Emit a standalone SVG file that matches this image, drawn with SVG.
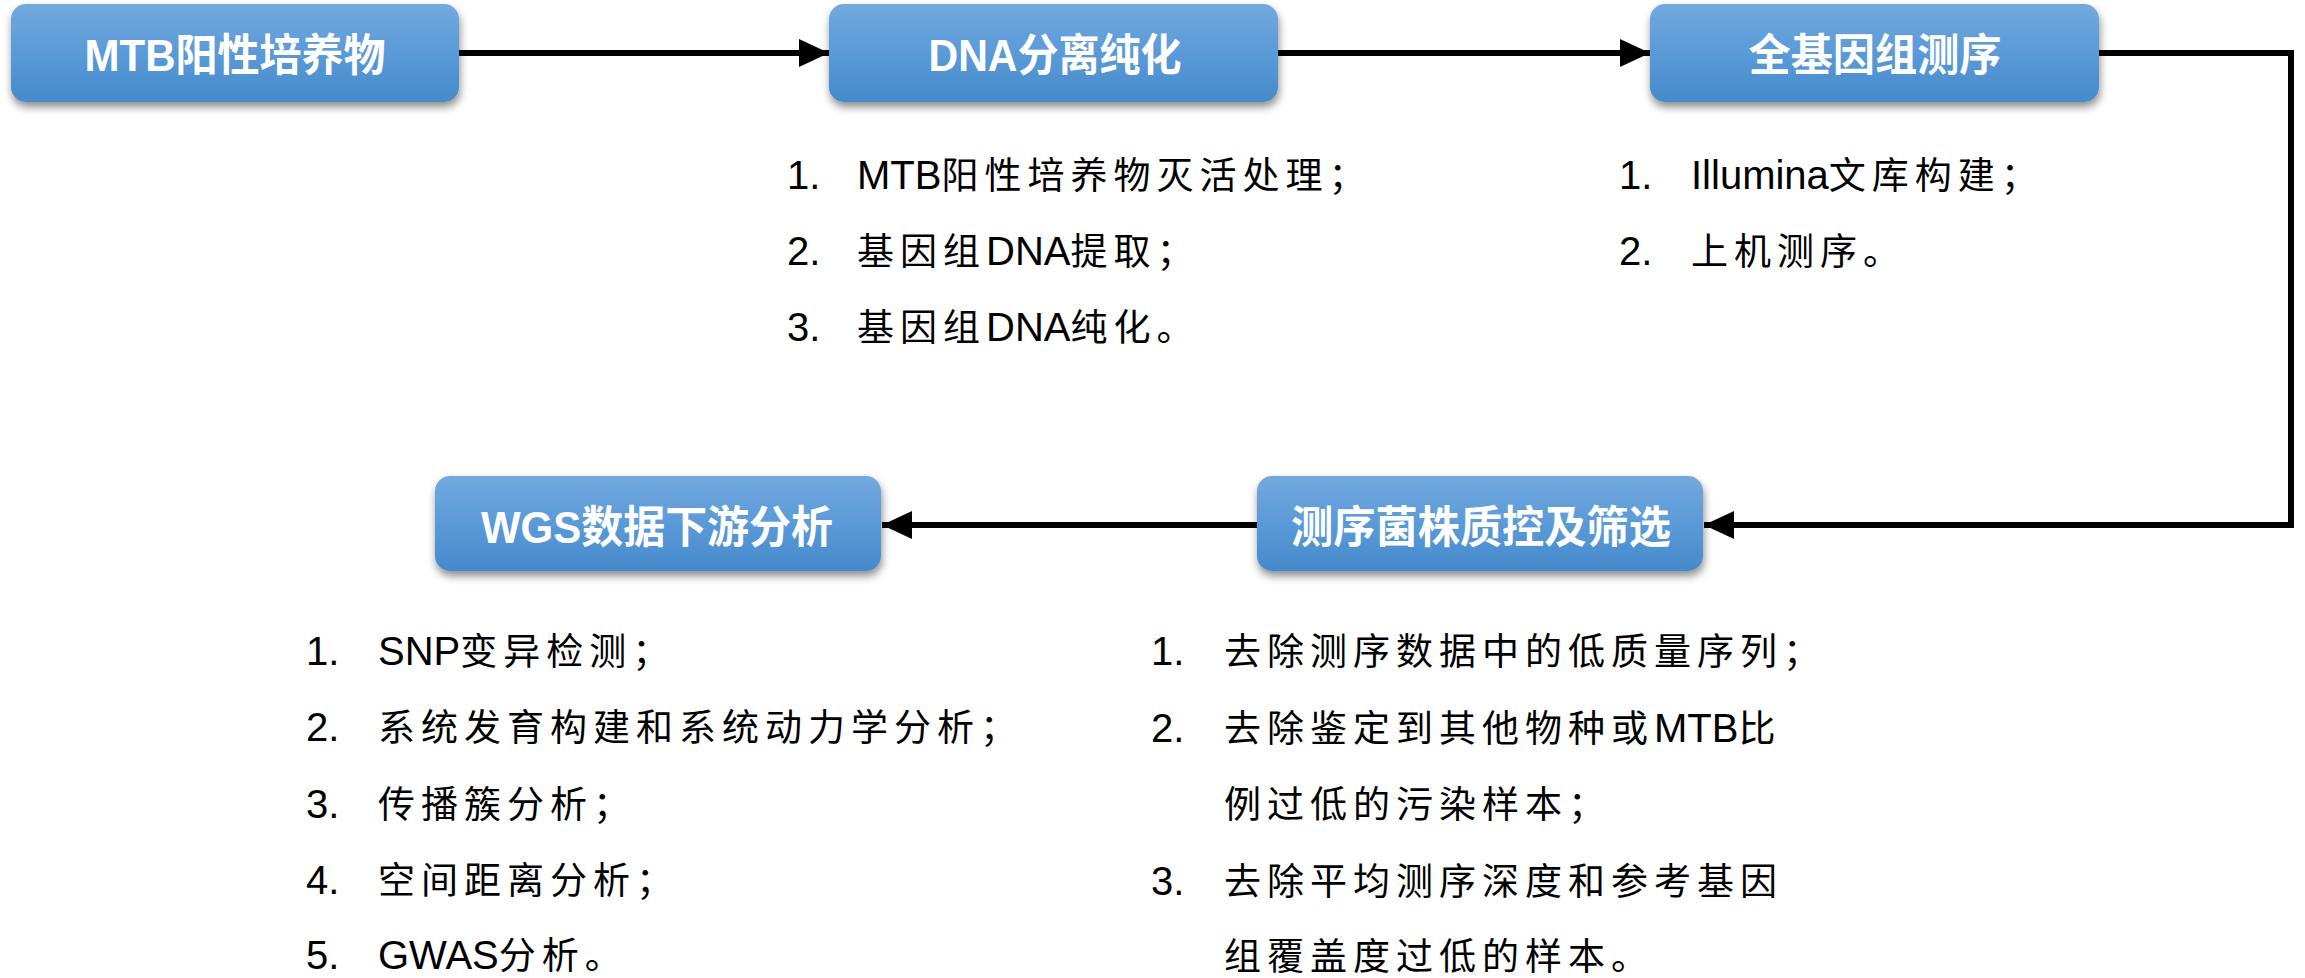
<svg xmlns="http://www.w3.org/2000/svg" width="2305" height="978" viewBox="0 0 2305 978">
<defs>
<linearGradient id="g" x1="0" y1="0" x2="0" y2="1">
<stop offset="0" stop-color="#73A9DE"/>
<stop offset="0.5" stop-color="#5A9AD8"/>
<stop offset="1" stop-color="#468ACB"/>
</linearGradient>
<filter id="sh" x="-10%" y="-20%" width="120%" height="150%">
<feDropShadow dx="1" dy="5" stdDeviation="4" flood-color="#000" flood-opacity="0.45"/>
</filter>
<marker id="ah" markerUnits="userSpaceOnUse" markerWidth="30" markerHeight="28" refX="30" refY="14" orient="auto">
<path d="M0,0 L30,14 L0,28 z" fill="#000"/>
</marker>
</defs>
<style>
.box{fill:url(#g);filter:url(#sh)}
.nt{font-family:"Liberation Sans","Noto Sans CJK SC",sans-serif;font-weight:bold;font-size:44px;fill:#fff;text-anchor:middle}
.num{font-family:"Liberation Sans",sans-serif;font-size:40px;fill:#000}
.li{font-family:"Liberation Sans","Noto Sans CJK SC",sans-serif;font-size:37px;fill:#000;letter-spacing:6px}
.lat{font-size:40px;letter-spacing:0}
.con{fill:none;stroke:#000;stroke-width:6}
</style>
<rect width="2305" height="978" fill="#fff"/>
<g id="connectors">
<path class="con" d="M459,53 H829" marker-end="url(#ah)"/>
<path class="con" d="M1278,53 H1650" marker-end="url(#ah)"/>
<path class="con" d="M2099,53 H2291 V525 H1704" marker-end="url(#ah)"/>
<path class="con" d="M1257,525 H882" marker-end="url(#ah)"/>
</g>
<g id="n1">
<rect class="box" x="11" y="4" width="448" height="98" rx="15"/>
<text class="nt" x="235" y="71" textLength="301" lengthAdjust="spacingAndGlyphs">MTB阳性培养物</text>
</g>
<g id="n2">
<rect class="box" x="829" y="4" width="449" height="98" rx="15"/>
<text class="nt" x="1055" y="71" textLength="253" lengthAdjust="spacingAndGlyphs">DNA分离纯化</text>
</g>
<g id="n3">
<rect class="box" x="1650" y="4" width="449" height="98" rx="15"/>
<text class="nt" x="1875" y="71" textLength="253" lengthAdjust="spacingAndGlyphs">全基因组测序</text>
</g>
<g id="n4">
<rect class="box" x="435" y="476" width="446" height="95" rx="15"/>
<text class="nt" x="657" y="543" textLength="352" lengthAdjust="spacingAndGlyphs">WGS数据下游分析</text>
</g>
<g id="n5">
<rect class="box" x="1257" y="476" width="446" height="95" rx="15"/>
<text class="nt" x="1481" y="543" textLength="380" lengthAdjust="spacingAndGlyphs">测序菌株质控及筛选</text>
</g>
<g id="list-dna">
<text class="num" x="787" y="189">1.</text>
<text class="li" x="857" y="189"><tspan class="lat">MTB</tspan>阳性培养物灭活处理；</text>
<text class="num" x="787" y="265">2.</text>
<text class="li" x="857" y="265">基因组<tspan class="lat">DNA</tspan>提取；</text>
<text class="num" x="787" y="341">3.</text>
<text class="li" x="857" y="341">基因组<tspan class="lat">DNA</tspan>纯化。</text>
</g>
<g id="list-seq">
<text class="num" x="1619" y="189">1.</text>
<text class="li" x="1691" y="189"><tspan class="lat">Illumina</tspan>文库构建；</text>
<text class="num" x="1619" y="265">2.</text>
<text class="li" x="1691" y="265">上机测序。</text>
</g>
<g id="list-wgs">
<text class="num" x="306" y="665">1.</text>
<text class="li" x="378" y="665"><tspan class="lat">SNP</tspan>变异检测；</text>
<text class="num" x="306" y="741">2.</text>
<text class="li" x="378" y="741">系统发育构建和系统动力学分析；</text>
<text class="num" x="306" y="818">3.</text>
<text class="li" x="378" y="818">传播簇分析；</text>
<text class="num" x="306" y="894">4.</text>
<text class="li" x="378" y="894">空间距离分析；</text>
<text class="num" x="306" y="969">5.</text>
<text class="li" x="378" y="969"><tspan class="lat">GWAS</tspan>分析。</text>
</g>
<g id="list-qc">
<text class="num" x="1151" y="665">1.</text>
<text class="li" x="1224" y="665">去除测序数据中的低质量序列；</text>
<text class="num" x="1151" y="742">2.</text>
<text class="li" x="1224" y="742">去除鉴定到其他物种或<tspan class="lat">MTB</tspan>比</text>
<text class="li" x="1224" y="818">例过低的污染样本；</text>
<text class="num" x="1151" y="895">3.</text>
<text class="li" x="1224" y="895">去除平均测序深度和参考基因</text>
<text class="li" x="1224" y="970">组覆盖度过低的样本。</text>
</g>
</svg>
